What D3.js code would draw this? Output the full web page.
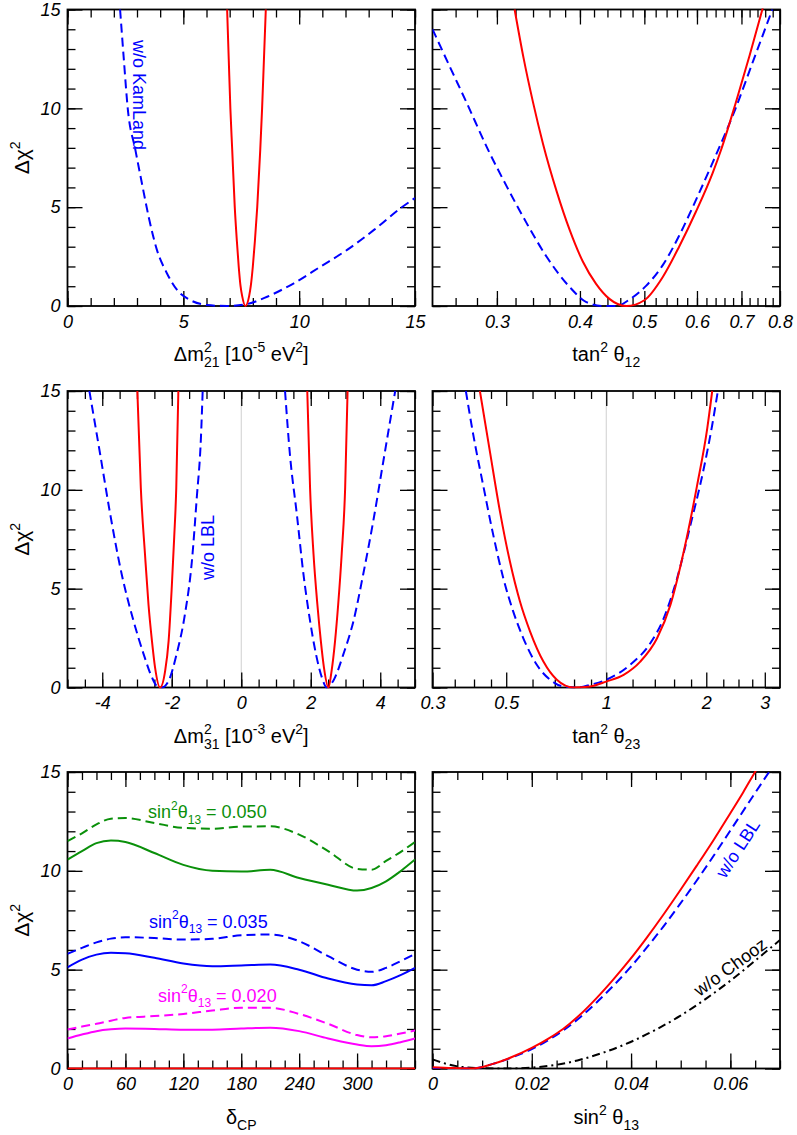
<!DOCTYPE html>
<html>
<head>
<meta charset="utf-8">
<script src="https://cdn.jsdelivr.net/npm/d3@7"></script>
<style>
  body { margin: 0; background: #fff; }
  svg { display: block; }
  text { font-family: 'Liberation Sans', Arial, Helvetica, sans-serif; }
  .tick text { font-style: italic; }
</style>
</head>
<body>
<script>
//
// DATA
//
// top left: dm21 [1e-5 eV^2]
const dm21RedX = [6.89, 6.96, 7.03, 7.11, 7.22, 7.31, 7.39, 7.47, 7.54, 7.68, 7.84, 7.91, 8.0, 8.09, 8.19, 8.32, 8.40, 8.48, 8.56]
const dm21RedY = [15, 12.5, 10, 7.9, 5, 3.3, 2, 1, 0.5, 0, 0.5, 1, 2, 3.3, 5, 7.9, 10, 12.5, 15]
const dm21BlueX = [2.27, 2.43, 2.6, 2.93, 3.21, 3.5, 3.86, 4.29, 4.73, 5.3, 6.02, 6.89, 7.75, 8.62, 9.77, 10.92, 12.07, 13.23, 14.38, 15]
const dm21BlueY = [15, 12.5, 10, 7.9, 6.22, 4.53, 2.84, 1.66, 0.81, 0.3, 0.05, 0, 0.1, 0.47, 1.15, 1.99, 2.84, 3.85, 4.95, 5.46]

// top right: tan^2 theta12
const t12RedX = [0.319, 0.329, 0.34, 0.352, 0.369, 0.386, 0.404, 0.423, 0.443, 0.47, 0.5, 0.533, 0.564, 0.598, 0.633, 0.652, 0.686, 0.72, 0.754]
const t12RedY = [15, 12.55, 10.3, 8.2, 5.8, 3.85, 2.25, 1.12, 0.36, 0, 0.29, 1.47, 3.0, 4.78, 6.7, 7.88, 10.26, 12.67, 15.1]
const t12BlueX = [0.24, 0.2553, 0.27, 0.291, 0.3105, 0.3327, 0.3564, 0.386, 0.409, 0.433, 0.454, 0.475, 0.503, 0.533, 0.564, 0.598, 0.633, 0.686, 0.73, 0.779]
const t12BlueY = [14.0, 12.05, 10.3, 7.9, 6.04, 4.18, 2.49, 0.96, 0.2, 0, 0, 0.33, 1.02, 2.07, 3.55, 5.37, 7.23, 10, 12.45, 15]

// middle left: dm31 [1e-3 eV^2], inverted and normal branches
const dm31RedNegX = [-2.99, -2.89, -2.77, -2.67, -2.57, -2.48, -2.335, -2.19, -2.09, -2.0, -1.93, -1.87, -1.81]
const dm31RedNegY = [15, 10.1, 6.74, 4.21, 2.36, 1.01, 0, 0.84, 2.36, 5.06, 7.58, 10.1, 15]
const dm31RedPosX = [1.90, 1.98, 2.08, 2.19, 2.29, 2.38, 2.51, 2.60, 2.70, 2.79, 2.89, 2.99, 3.06]
const dm31RedPosY = [15, 10.1, 6.74, 4.21, 2.36, 1.01, 0, 0.84, 2.36, 4.21, 6.74, 10.1, 15]
const dm31BlueNegX = [-4.37, -4.06, -3.77, -3.44, -3.1, -2.81, -2.57, -2.43, -2.29, -2.09, -1.86, -1.62, -1.42, -1.28, -1.16, -1.11]
const dm31BlueNegY = [15, 11.8, 8.76, 5.73, 3.37, 1.69, 0.51, 0.08, 0, 0.34, 1.69, 3.71, 6.4, 9.6, 12.64, 15]
const dm31BluePosX = [1.26, 1.40, 1.60, 1.79, 1.98, 2.15, 2.32, 2.46, 2.65, 2.94, 3.23, 3.51, 3.80, 4.09, 4.43]
const dm31BluePosY = [15, 11.8, 8.76, 5.73, 3.37, 1.69, 0.51, 0, 0.34, 1.69, 3.37, 5.73, 8.43, 11.46, 15]

// middle right: tan^2 theta23
const t23RedX = [0.4166, 0.4466, 0.4788, 0.513, 0.55, 0.59, 0.647, 0.71, 0.797, 0.895, 1.0, 1.128, 1.266, 1.422, 1.56, 1.711, 1.878, 2.013, 2.084]
const t23RedY = [15, 11.93, 8.9, 6.37, 4.35, 2.83, 1.31, 0.39, 0, 0.05, 0.3, 0.64, 1.31, 2.49, 4.18, 6.88, 10.25, 13.1, 15]
const t23BlueX = [0.378, 0.398, 0.426, 0.457, 0.49, 0.525, 0.563, 0.618, 0.678, 0.743, 0.82, 0.9, 1.0, 1.18, 1.357, 1.489, 1.634, 1.793, 1.966, 2.084, 2.167]
const t23BlueY = [15, 12.78, 10.25, 7.72, 5.53, 3.84, 2.49, 1.15, 0.39, 0.05, 0, 0.15, 0.39, 1.15, 2.24, 3.5, 5.53, 8.23, 11.09, 13.28, 15]

// bottom left: delta_CP scans at fixed sin^2 theta13 (solid = all data, dashed = w/o LBL)
const dcp = [0, 15, 30, 45, 60, 90, 120, 150, 180, 210, 240, 270, 300, 315, 330, 345, 360]
const s050Dash = [11.5, 11.9, 12.35, 12.64, 12.67, 12.42, 12.17, 12.13, 12.24, 12.25, 11.83, 11.0, 10.1, 10.06, 10.5, 10.95, 11.46]
const s050Solid = [10.57, 11.0, 11.4, 11.53, 11.46, 10.9, 10.3, 10.0, 9.96, 10.05, 9.64, 9.3, 9.0, 9.13, 9.47, 9.98, 10.57]
const s035Dash = [5.8, 6.1, 6.38, 6.57, 6.64, 6.6, 6.52, 6.56, 6.74, 6.78, 6.44, 5.68, 5.0, 4.89, 5.09, 5.43, 5.8]
const s035Solid = [5.12, 5.51, 5.76, 5.85, 5.83, 5.6, 5.31, 5.17, 5.21, 5.26, 5.0, 4.55, 4.25, 4.21, 4.42, 4.72, 5.09]
const s020Dash = [1.97, 2.12, 2.26, 2.42, 2.56, 2.65, 2.76, 2.93, 3.07, 3.07, 2.76, 2.26, 1.69, 1.58, 1.63, 1.77, 1.92]
const s020Solid = [1.52, 1.72, 1.89, 1.98, 2.02, 2.0, 1.96, 1.96, 2.02, 2.06, 1.89, 1.52, 1.21, 1.13, 1.18, 1.33, 1.52]
const dcpBest = [0, 0, 0, 0, 0, 0, 0, 0, 0, 0, 0, 0, 0, 0, 0, 0, 0]

// bottom right: sin^2 theta13
const s13RedX = [0, 0.004, 0.008, 0.012, 0.016, 0.02, 0.0236, 0.0263, 0.0297, 0.033, 0.0364, 0.0398, 0.0431, 0.0465, 0.0498, 0.0532, 0.0566, 0.0599, 0.0626, 0.0645, 0.0652]
const s13RedY = [0.06, 0.02, 0, 0.22, 0.58, 1.04, 1.55, 2.0, 2.72, 3.55, 4.5, 5.52, 6.6, 7.78, 8.98, 10.25, 11.55, 12.88, 13.98, 14.8, 15.1]
const s13BlueX = [0, 0.004, 0.008, 0.012, 0.016, 0.02, 0.0236, 0.0263, 0.0297, 0.033, 0.0364, 0.0398, 0.0431, 0.0465, 0.0498, 0.0532, 0.0566, 0.0599, 0.0633, 0.0666, 0.0686]
const s13BlueY = [0.03, 0.01, 0, 0.22, 0.56, 0.98, 1.48, 1.92, 2.58, 3.33, 4.18, 5.1, 6.1, 7.18, 8.3, 9.5, 10.75, 12.0, 13.3, 14.55, 15.3]
const s13BlackX = [0, 0.0048, 0.0095, 0.015, 0.02, 0.025, 0.0297, 0.0347, 0.0398, 0.0451, 0.0498, 0.0552, 0.0599, 0.064, 0.07]
const s13BlackY = [0.46, 0.12, 0.02, 0, 0.05, 0.19, 0.44, 0.83, 1.33, 1.98, 2.65, 3.55, 4.42, 5.25, 6.5]

// tick values
const yMinor = d3.range(0, 16)
const yMajor = [0, 5, 10, 15]
const t23Minor = [0.35, 0.4, 0.45, 0.6, 0.7, 0.8, 0.9, 1.2, 1.4, 1.6, 1.8, 2.25, 2.5, 2.75]

//
// GLOBALS
//
const W = 797
const H = 1135
const colX = [67.5, 432.5]
const rowY = [9.5, 391, 772]
const panelW = 347.5
const panelH = 296.5
const MAJOR = 15
const MINOR = 8
const RED = '#ff0000'
const BLUE = '#0000ff'
const GREEN = '#0a900a'
const MAGENTA = '#ff00ff'
const DASH = '9,5'
const DASHDOT = '8,4,2,4'

const c = (x, y, color, dash) => ({ x, y, color, dash })

const panels = [
    {
        col: 0, row: 0, domain: [0, 15], minor: d3.range(0, 16), major: [0, 5, 10, 15],
        title: [['Δm'], ['2', 'sup'], ['21', 'under'], [' [10'], ['-5', 'sup'], [' eV'], ['2', 'sup'], [']']],
        curves: [c(dm21BlueX, dm21BlueY, BLUE, DASH), c(dm21RedX, dm21RedY, RED)],
    },
    {
        col: 1, row: 0, log: true, domain: [0.24, 0.8], minor: d3.range(13, 40).map(i => i * 0.02),
        major: [0.3, 0.4, 0.5, 0.6, 0.7, 0.8],
        title: [['tan'], ['2', 'sup'], [' θ'], ['12', 'sub']],
        curves: [c(t12BlueX, t12BlueY, BLUE, DASH), c(t12RedX, t12RedY, RED)],
    },
    {
        col: 0, row: 1, domain: [-5, 5], minor: d3.range(-10, 11).map(i => i * 0.5), major: [-4, -2, 0, 2, 4],
        refLine: 0,
        title: [['Δm'], ['2', 'sup'], ['31', 'under'], [' [10'], ['-3', 'sup'], [' eV'], ['2', 'sup'], [']']],
        curves: [
            c(dm31BlueNegX, dm31BlueNegY, BLUE, DASH), c(dm31BluePosX, dm31BluePosY, BLUE, DASH),
            c(dm31RedNegX, dm31RedNegY, RED), c(dm31RedPosX, dm31RedPosY, RED),
        ],
    },
    {
        col: 1, row: 1, log: true, domain: [0.3, 1 / 0.3], minor: t23Minor, major: [0.3, 0.5, 1, 2, 3],
        refLine: 1,
        title: [['tan'], ['2', 'sup'], [' θ'], ['23', 'sub']],
        curves: [c(t23BlueX, t23BlueY, BLUE, DASH), c(t23RedX, t23RedY, RED)],
    },
    {
        col: 0, row: 2, domain: [0, 360], minor: d3.range(0, 361, 15), major: [0, 60, 120, 180, 240, 300],
        title: [['δ'], ['CP', 'sub']],
        curves: [
            c(dcp, s050Dash, GREEN, DASH), c(dcp, s050Solid, GREEN),
            c(dcp, s035Dash, BLUE, DASH), c(dcp, s035Solid, BLUE),
            c(dcp, s020Dash, MAGENTA, DASH), c(dcp, s020Solid, MAGENTA),
            c(dcp, dcpBest, RED),
        ],
    },
    {
        col: 1, row: 2, domain: [0, 0.07], minor: d3.range(0, 15).map(i => i * 0.005), major: [0, 0.02, 0.04, 0.06],
        title: [['sin'], ['2', 'sup'], [' θ'], ['13', 'sub']],
        curves: [c(s13BlackX, s13BlackY, '#000', DASHDOT), c(s13BlueX, s13BlueY, BLUE, DASH), c(s13RedX, s13RedY, RED)],
    },
]

// free-floating annotations
const notes = [
    { parts: [['w/o KamLand']], x: 133, y: 40, rotate: 90, color: BLUE },
    { parts: [['w/o LBL']], x: 214, y: 580, rotate: -90, color: BLUE },
    { parts: [['sin'], ['2', 'sup'], ['θ'], ['13', 'sub'], [' = 0.050']], x: 148, y: 818, color: GREEN },
    { parts: [['sin'], ['2', 'sup'], ['θ'], ['13', 'sub'], [' = 0.035']], x: 149, y: 927.5, color: BLUE },
    { parts: [['sin'], ['2', 'sup'], ['θ'], ['13', 'sub'], [' = 0.020']], x: 158, y: 1001.5, color: MAGENTA },
    { parts: [['w/o LBL']], x: 743, y: 852, rotate: -57, color: BLUE, center: true },
    { parts: [['w/o Chooz']], x: 734, y: 972, rotate: -36, color: '#000', center: true },
]

//
// RENDER
//
const svg = d3.select('body').append('svg').attr('width', W).attr('height', H)

// write text with super/subscripts; 'under' stacks a subscript below the previous superscript
const richText = (text, parts, size) => {
    const small = Math.round(size * 0.68)
    let shift = 0
    let last = null
    parts.forEach(([t, kind]) => {
        const off = kind === 'sup' ? -0.45 * size : kind ? 0.32 * size : 0
        const ts = text.append('tspan').attr('dy', off - shift).text(t)
        if (kind) ts.attr('font-size', small)
        if (kind === 'under' && last) ts.attr('dx', -last.node().getComputedTextLength())
        shift = off
        last = ts
    })
}

const styleAxis = (a) => {
    a.select('.domain').remove()
    a.attr('font-family', null).attr('font-size', 18).attr('font-style', 'italic').attr('stroke-width', 1.3)
}

const drawPanel = (p, idx) => {
    const x0 = colX[p.col]
    const y0 = rowY[p.row]
    const x1 = x0 + panelW
    const y1 = y0 + panelH
    const x = (p.log ? d3.scaleLog() : d3.scaleLinear()).domain(p.domain).range([x0, x1])
    const y = d3.scaleLinear().domain([0, 15]).range([y1, y0])
    const g = svg.append('g').attr('class', `panel panel-${idx}`)

    const clipId = `clip-${idx}`
    g.append('clipPath').attr('id', clipId)
        .append('rect').attr('x', x0).attr('y', y0 - 1).attr('width', panelW).attr('height', panelH + 2)

    // thin grey reference line
    if (p.refLine !== undefined) {
        g.append('line')
            .attr('x1', x(p.refLine)).attr('x2', x(p.refLine)).attr('y1', y0).attr('y2', y1)
            .attr('stroke', '#cfcfcf').attr('stroke-width', 1)
    }

    // minor ticks on all four sides (pointing inwards)
    g.append('g').attr('transform', `translate(0,${y1})`)
        .call(d3.axisBottom(x).tickValues(p.minor).tickSize(-MINOR).tickFormat('')).call(styleAxis)
    g.append('g').attr('transform', `translate(0,${y0})`)
        .call(d3.axisTop(x).tickValues(p.minor).tickSize(-MINOR).tickFormat('')).call(styleAxis)
    g.append('g').attr('transform', `translate(${x0},0)`)
        .call(d3.axisLeft(y).tickValues(yMinor).tickSize(-MINOR).tickFormat('')).call(styleAxis)
    g.append('g').attr('transform', `translate(${x1},0)`)
        .call(d3.axisRight(y).tickValues(yMinor).tickSize(-MINOR).tickFormat('')).call(styleAxis)

    // major ticks + labels
    g.append('g').attr('transform', `translate(0,${y1})`)
        .call(d3.axisBottom(x).tickValues(p.major).tickSize(-MAJOR).tickPadding(9).tickFormat(d => String(d)))
        .call(styleAxis)
    g.append('g').attr('transform', `translate(0,${y0})`)
        .call(d3.axisTop(x).tickValues(p.major).tickSize(-MAJOR).tickFormat('')).call(styleAxis)
    g.append('g').attr('transform', `translate(${x0},0)`)
        .call(d3.axisLeft(y).tickValues(yMajor).tickSize(-MAJOR).tickPadding(7)
            .tickFormat(p.col === 0 ? (d => String(d)) : ''))
        .call(styleAxis)
    g.append('g').attr('transform', `translate(${x1},0)`)
        .call(d3.axisRight(y).tickValues(yMajor).tickSize(-MAJOR).tickFormat('')).call(styleAxis)

    // frame
    g.append('rect')
        .attr('x', x0).attr('y', y0).attr('width', panelW).attr('height', panelH)
        .attr('fill', 'none').attr('stroke', '#000').attr('stroke-width', 1.8)

    // curves
    const line = d3.line().x(d => x(d[0])).y(d => y(d[1])).curve(d3.curveMonotoneX)
    p.curves.forEach(cv => {
        g.append('path')
            .datum(d3.zip(cv.x, cv.y))
            .attr('d', line)
            .attr('fill', 'none')
            .attr('stroke', cv.color)
            .attr('stroke-width', 2)
            .attr('stroke-dasharray', cv.dash || null)
            .attr('clip-path', `url(#${clipId})`)
    })

    // x title
    const tt = g.append('text')
        .attr('x', x0 + panelW / 2).attr('y', y1 + 55)
        .attr('text-anchor', 'middle').attr('font-size', 20)
    richText(tt, p.title, 20)

    // y title on the left column
    if (p.col === 0) {
        const yt = g.append('text')
            .attr('transform', `translate(29,${y0 + panelH / 2}) rotate(-90)`)
            .attr('text-anchor', 'middle').attr('font-size', 21)
        richText(yt, [['Δχ'], ['2', 'sup']], 21)
    }
}

panels.forEach(drawPanel)

notes.forEach(n => {
    const t = svg.append('text')
        .attr('transform', `translate(${n.x},${n.y}) rotate(${n.rotate || 0})`)
        .attr('text-anchor', n.center ? 'middle' : 'start')
        .attr('dy', n.center ? '0.35em' : null)
        .attr('font-size', 18)
        .attr('fill', n.color)
    richText(t, n.parts, 18)
})
</script>
</body>
</html>
